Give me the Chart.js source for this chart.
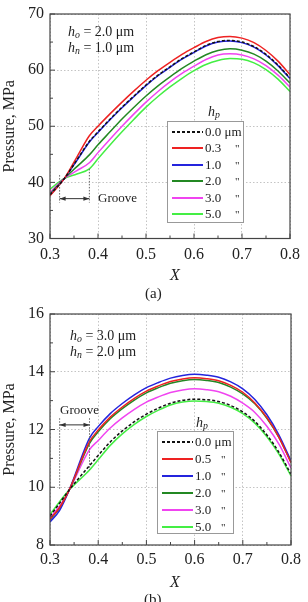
<!DOCTYPE html>
<html>
<head>
<meta charset="utf-8">
<script src="https://cdn.jsdelivr.net/npm/chart.js@4.4.0/dist/chart.umd.min.js"></script>
<style>
  html, body { margin: 0; padding: 0; background: #fff; }
  body {
    width: 308px; height: 602px; position: relative; overflow: hidden;
    font-family: "Liberation Serif", "DejaVu Serif", serif; color: #222;
  }
  canvas { position: absolute; left: 0; }
  .txt { position: absolute; white-space: nowrap; line-height: 1; }
  .txt sub { font-size: 70%; vertical-align: -2px; }
  .legend { position: absolute; border: 1px solid #999; background: #fff; }
  .row { position: absolute; left: 0; height: 14px; line-height: 14px; font-size: 13px; white-space: nowrap; }
  .sample { position: absolute; top: 6px; height: 2px; }
</style>
</head>
<body>
<canvas id="chart-a" width="308" height="300" style="top:0"></canvas>
<canvas id="chart-b" width="308" height="302" style="top:300px"></canvas>

<div class="txt" style="left:68px;top:25px;font-size:14px"><i>h</i><sub><i>o</i></sub> = 2.0 μm</div>
<div class="txt" style="left:68px;top:41px;font-size:14px"><i>h</i><sub><i>n</i></sub> = 1.0 μm</div>
<div class="txt" style="left:98px;top:191px;font-size:13px">Groove</div>
<div class="txt" style="left:208px;top:105px;font-size:14px"><i>h</i><sub><i>p</i></sub></div>
<div class="txt" style="left:170px;top:267px;font-size:16px"><i>X</i></div>
<div class="txt" style="left:145px;top:286px;font-size:15px">(a)</div>

<div class="txt" style="left:70px;top:329px;font-size:14px"><i>h</i><sub><i>o</i></sub> = 3.0 μm</div>
<div class="txt" style="left:70px;top:345px;font-size:14px"><i>h</i><sub><i>n</i></sub> = 2.0 μm</div>
<div class="txt" style="left:60px;top:403px;font-size:13px">Groove</div>
<div class="txt" style="left:196px;top:416px;font-size:14px"><i>h</i><sub><i>p</i></sub></div>
<div class="txt" style="left:170px;top:574px;font-size:16px"><i>X</i></div>
<div class="txt" style="left:144px;top:592px;font-size:15px">(b)</div>

<div id="legend-a" class="legend" style="left:167px;top:121px;width:75px;height:100px"></div>
<div id="legend-b" class="legend" style="left:157px;top:431px;width:75px;height:101px"></div>

<script>
// ---------------------------------------------------
// Panel (a): h_o = 2.0 µm, h_n = 1.0 µm
// ---------------------------------------------------
const xA = [0.30, 0.33, 0.356, 0.382, 0.40, 0.425, 0.45, 0.475, 0.50, 0.525, 0.55, 0.575,
            0.60, 0.625, 0.65, 0.675, 0.70, 0.725, 0.75, 0.775, 0.80];
const p00A = [37.8, 40.7, 44.0, 47.3, 49.0, 51.25, 53.4, 55.4, 57.35, 59.1, 60.6, 62.05,
              63.25, 64.4, 65.1, 65.3, 65.0, 64.2, 62.8, 60.9, 58.6];
const p03A = [37.6, 40.7, 44.5, 48.3, 50.0, 52.2, 54.3, 56.3, 58.2, 59.9, 61.4, 62.8,
              64.0, 65.1, 65.8, 66.0, 65.7, 64.9, 63.5, 61.6, 59.2];
const p10A = [37.7, 40.7, 43.9, 47.2, 48.9, 51.15, 53.3, 55.3, 57.25, 59.0, 60.5, 61.95,
              63.15, 64.3, 65.0, 65.2, 64.9, 64.1, 62.7, 60.8, 58.5];
const p20A = [37.9, 40.7, 42.8, 44.9, 46.7, 49.0, 51.3, 53.4, 55.4, 57.2, 58.8, 60.3,
              61.6, 62.75, 63.5, 63.8, 63.55, 62.85, 61.6, 59.85, 57.7];
const p30A = [38.2, 40.7, 42.1, 43.5, 45.3, 47.7, 50.0, 52.2, 54.3, 56.2, 57.9, 59.4,
              60.7, 61.9, 62.7, 62.9, 62.7, 62.0, 60.8, 59.1, 57.0];
const p50A = [38.8, 40.7, 41.5, 42.4, 44.2, 46.65, 49.0, 51.25, 53.4, 55.3, 57.0, 58.55,
              59.9, 61.0, 61.7, 62.05, 61.95, 61.3, 60.1, 58.4, 56.2];
const hpLabelsA = ['0.0 μm', '0.3', '1.0', '2.0', '3.0', '5.0'];

// ---------------------------------------------------
// Panel (b): h_o = 3.0 µm, h_n = 2.0 µm
// ---------------------------------------------------
const xB = [0.30, 0.32, 0.34, 0.382, 0.40, 0.425, 0.45, 0.475, 0.50, 0.525, 0.55, 0.575,
            0.60, 0.625, 0.65, 0.675, 0.70, 0.725, 0.75, 0.775, 0.80];
const p00B = [9.00, 9.45, 9.91, 10.75, 11.10, 11.57, 11.95, 12.27, 12.53, 12.74, 12.91, 13.01,
              13.05, 13.03, 12.97, 12.83, 12.61, 12.28, 11.81, 11.21, 10.45];
const p05B = [8.90, 9.30, 9.91, 11.58, 11.98, 12.43, 12.78, 13.08, 13.33, 13.51, 13.66, 13.75,
              13.79, 13.76, 13.69, 13.53, 13.29, 12.92, 12.41, 11.73, 10.85];
const p10B = [8.80, 9.20, 9.91, 11.70, 12.10, 12.55, 12.90, 13.20, 13.45, 13.63, 13.78, 13.87,
              13.91, 13.88, 13.81, 13.65, 13.41, 13.04, 12.51, 11.81, 10.91];
const p20B = [8.88, 9.28, 9.91, 11.52, 11.92, 12.37, 12.72, 13.02, 13.27, 13.45, 13.60, 13.69,
              13.73, 13.70, 13.63, 13.47, 13.23, 12.89, 12.39, 11.73, 10.87];
const p30B = [8.95, 9.35, 9.91, 11.30, 11.62, 12.05, 12.40, 12.70, 12.95, 13.13, 13.28, 13.37,
              13.41, 13.38, 13.31, 13.15, 12.91, 12.59, 12.11, 11.49, 10.67];
const p50B = [9.05, 9.50, 9.91, 10.60, 10.95, 11.45, 11.85, 12.18, 12.45, 12.67, 12.85, 12.95,
              12.99, 12.97, 12.91, 12.77, 12.55, 12.22, 11.75, 11.15, 10.39];
const hpLabelsB = ['0.0 μm', '0.5', '1.0', '2.0', '3.0', '5.0'];

// Shared look of the six curves (first one = h_p 0.0, dashed).
const seriesColors = ['#111111', '#ee2222', '#2424dd', '#238823', '#f044f0', '#44ee44'];

// Groove limits on the X axis.
const grooveStart = 0.32;
const grooveEnd   = 0.382;

const FONT = '"Liberation Serif", "DejaVu Serif", serif';

function isMajorX(v) { return Math.abs(v * 10 - Math.round(v * 10)) < 1e-6; }

// Frame, inward tick marks and the groove markers.
const framePlugin = {
  id: 'frame',
  afterDatasetsDraw(chart, args, opts) {
    const { ctx, chartArea: a, scales: { x, y } } = chart;
    ctx.save();

    // Groove: dotted verticals and double arrow.
    ctx.strokeStyle = '#666';
    ctx.lineWidth = 1;
    ctx.setLineDash([1.5, 1.5]);
    for (const [gx, yTop, yBot] of opts.grooveLines) {
      const px = x.getPixelForValue(gx);
      ctx.beginPath();
      ctx.moveTo(px, y.getPixelForValue(yTop));
      ctx.lineTo(px, y.getPixelForValue(yBot));
      ctx.stroke();
    }
    ctx.setLineDash([]);
    const ay = y.getPixelForValue(opts.arrowY);
    const ax1 = x.getPixelForValue(grooveStart);
    const ax2 = x.getPixelForValue(grooveEnd);
    ctx.strokeStyle = '#333';
    ctx.fillStyle = '#333';
    ctx.beginPath();
    ctx.moveTo(ax1, ay);
    ctx.lineTo(ax2, ay);
    ctx.stroke();
    for (const [tip, dir] of [[ax1, 1], [ax2, -1]]) {
      ctx.beginPath();
      ctx.moveTo(tip, ay);
      ctx.lineTo(tip + dir * 6, ay - 2.2);
      ctx.lineTo(tip + dir * 6, ay + 2.2);
      ctx.closePath();
      ctx.fill();
    }

    // Plot frame.
    ctx.strokeStyle = '#444';
    ctx.lineWidth = 1.2;
    ctx.strokeRect(a.left, a.top, a.right - a.left, a.bottom - a.top);

    // Inward tick marks (major long, minor short).
    ctx.lineWidth = 1;
    for (const t of x.ticks) {
      const px = x.getPixelForValue(t.value);
      const len = isMajorX(t.value) ? 5 : 3;
      ctx.beginPath();
      ctx.moveTo(px, a.bottom);
      ctx.lineTo(px, a.bottom - len);
      ctx.stroke();
    }
    for (const t of y.ticks) {
      const py = y.getPixelForValue(t.value);
      const len = t.value % opts.yMajor === 0 ? 5 : 3;
      ctx.beginPath();
      ctx.moveTo(a.left, py);
      ctx.lineTo(a.left + len, py);
      ctx.stroke();
    }
    ctx.restore();
  }
};

// Builds one panel.
function makePanel(canvasId, p) {
  const datasets = p.series.map((vals, i) => ({
    data: p.xs.map((xv, j) => ({ x: xv, y: vals[j] })),
    borderColor: seriesColors[i],
    borderWidth: 1.5,
    borderDash: i === 0 ? [3, 2] : [],
    pointRadius: 0,
    cubicInterpolationMode: 'monotone',
    fill: false
  }));

  return new Chart(document.getElementById(canvasId), {
    type: 'line',
    data: { datasets },
    options: {
      responsive: false,
      animation: false,
      layout: { padding: { top: p.padTop, right: 10, bottom: 0, left: 0 } },
      plugins: {
        legend: { display: false },
        tooltip: { enabled: false },
        frame: { grooveLines: p.grooveLines, arrowY: p.arrowY, yMajor: p.yMajor }
      },
      scales: {
        x: {
          type: 'linear', min: 0.3, max: 0.8,
          afterFit: s => { s.height = p.xHeight; },
          ticks: {
            stepSize: 0.05, autoSkip: false, maxRotation: 0, padding: p.xPad,
            color: '#222', font: { family: FONT, size: 16, lineHeight: 1 },
            callback: v => isMajorX(v) ? v.toFixed(1) : ''
          },
          grid: {
            drawTicks: false, lineWidth: 1,
            color: c => isMajorX(c.tick.value) ? '#c4c4c4' : 'rgba(0,0,0,0)'
          },
          border: { display: false, dash: [1.5, 2] }
        },
        y: {
          min: p.yMin, max: p.yMax,
          afterFit: s => { s.width = 50; },
          ticks: {
            stepSize: p.yMajor / 2, autoSkip: false, padding: 6,
            color: '#222', font: { family: FONT, size: 16, lineHeight: 1 },
            callback: v => v % p.yMajor === 0 ? String(v) : ''
          },
          grid: {
            drawTicks: false, lineWidth: 1,
            color: c => c.tick.value % p.yMajor === 0 ? '#c4c4c4' : 'rgba(0,0,0,0)'
          },
          border: { display: false, dash: [1.5, 2] },
          title: {
            display: true, text: 'Pressure, MPa', color: '#222',
            font: { family: FONT, size: 16 }, padding: { top: 0, bottom: 0 }
          }
        }
      }
    },
    plugins: [framePlugin]
  });
}

// HTML legend with line samples.
function buildLegend(id, labels, rowTop, rowStep, sampleL, sampleW, textL, dittoL) {
  const box = document.getElementById(id);
  labels.forEach((lab, i) => {
    const row = document.createElement('div');
    row.className = 'row';
    row.style.top = (rowTop + i * rowStep - 7) + 'px';
    row.style.width = '100%';
    const c = seriesColors[i];
    const bg = i === 0
      ? `repeating-linear-gradient(to right, ${c} 0 3px, transparent 3px 5px)`
      : c;
    row.innerHTML =
      `<div class="sample" style="left:${sampleL}px;width:${sampleW}px;background:${bg}"></div>` +
      `<span style="position:absolute;left:${textL}px">${lab}</span>` +
      (i === 0 ? '' : `<span style="position:absolute;left:${dittoL}px;font-size:11px">"</span>`);
    box.appendChild(row);
  });
}

makePanel('chart-a', {
  xs: xA, series: [p00A, p03A, p10A, p20A, p30A, p50A],
  yMin: 30, yMax: 70, yMajor: 10,
  padTop: 7.5, xHeight: 61.5, xPad: 8,
  grooveLines: [[grooveStart, 41.3, 36.4], [grooveEnd, 42.4, 36.4]],
  arrowY: 37.1
});

makePanel('chart-b', {
  xs: xB, series: [p00B, p05B, p10B, p20B, p30B, p50B],
  yMin: 8, yMax: 16, yMajor: 2,
  padTop: 14, xHeight: 57, xPad: 7,
  grooveLines: [[grooveStart, 12.39, 9.9], [grooveEnd, 12.39, 10.6]],
  arrowY: 12.16
});

buildLegend('legend-a', hpLabelsA, 10, 16.4, 4, 31, 37, 67);
buildLegend('legend-b', hpLabelsB, 10, 17, 4, 31, 37, 63);
</script>
</body>
</html>
